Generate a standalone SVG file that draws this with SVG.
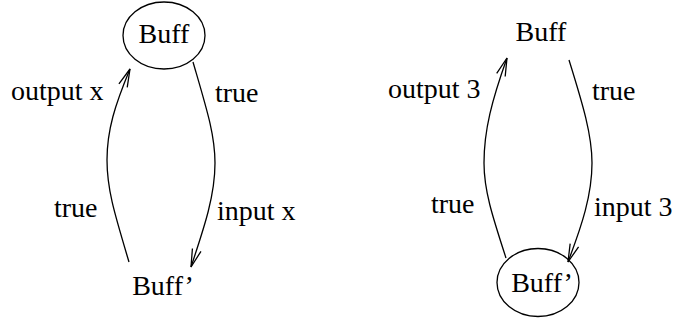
<svg xmlns="http://www.w3.org/2000/svg" width="675" height="322" viewBox="0 0 675 322">
<style>
text{font-family:"Liberation Serif","Times New Roman",serif;font-size:28px;fill:#000}
.n{text-anchor:middle}
.st{fill:none;stroke:#000;stroke-width:1.3}
</style>
<defs>
<marker id="ah" markerUnits="userSpaceOnUse" markerWidth="24" markerHeight="14" refX="20" refY="6" orient="auto" viewBox="0 0 24 12">
<path d="M2,1.5 L20,6 L2,10.5" fill="none" stroke="#000" stroke-width="1.3"/>
</marker>
</defs>
<rect width="675" height="322" fill="#fff"/>
<g id="connectors">
<path class="st" d="M129,262 C115,215 107,190 107,160 C107,130 115,105 130,69" marker-end="url(#ah)"/>
<path class="st" d="M193,62 C207,110 215,135 215,163 C215,195 205,225 191,267" marker-end="url(#ah)"/>
<path class="st" d="M506,258 C492,215 484,190 484,163 C484,130 492,100 507,58" marker-end="url(#ah)"/>
<path class="st" d="M569,60 C583,105 592,135 592,163 C592,195 582,225 568,262" marker-end="url(#ah)"/>
<text x="11" y="100">output x</text>
<text x="215" y="102">true</text>
<text x="54" y="217">true</text>
<text x="217" y="220">input x</text>
<text x="388" y="98">output 3</text>
<text x="592" y="100">true</text>
<text x="431" y="213">true</text>
<text x="594" y="216">input 3</text>
</g>
<g id="buff1">
<ellipse class="st" cx="164" cy="35.5" rx="41" ry="33.5"/>
<text class="n" x="164" y="43">Buff</text>
</g>
<g id="buffp1">
<text class="n" x="163" y="295">Buff’</text>
</g>
<g id="buff2">
<text class="n" x="541" y="41">Buff</text>
</g>
<g id="buffp2">
<ellipse class="st" cx="538" cy="282.5" rx="41" ry="34"/>
<text class="n" x="542" y="292">Buff’</text>
</g>
</svg>
